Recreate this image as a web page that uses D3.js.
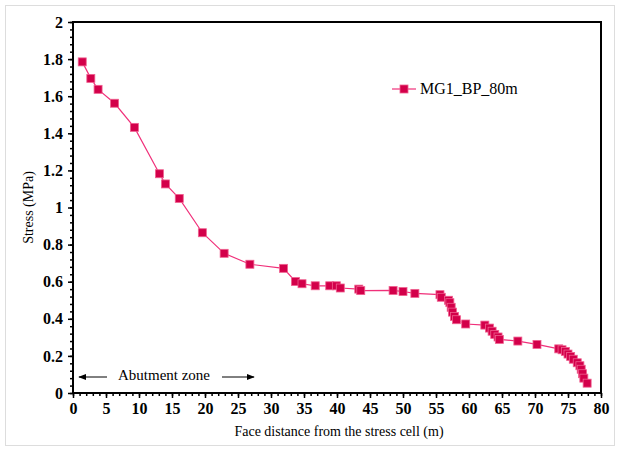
<!DOCTYPE html>
<html lang="en">
<head>
<meta charset="UTF-8">
<title>Stress vs face distance</title>
<script src="https://d3js.org/d3.v7.min.js"></script>
<style>
  body { margin: 0; background: #fff; }
  svg text { font-family: "Liberation Serif", "Times New Roman", Times, "DejaVu Serif", serif !important; }
</style>
</head>
<body>
<svg id="chart" width="620" height="451"></svg>
<script>
// face distance (m) and stress (MPa)
var distance = [1.4, 2.7, 3.8, 6.3, 9.3, 13.1, 14.0, 16.1, 19.6, 22.9, 26.8, 31.9,
  33.7, 34.7, 36.7, 38.9, 39.9, 40.5, 43.3, 43.6, 48.5, 50.0, 51.8, 55.6, 55.8,
  56.9, 57.1, 57.3, 57.5, 57.8, 58.1, 59.5, 62.4, 63.1, 63.5, 63.9, 64.4, 64.6,
  67.4, 70.3, 73.6, 74.1, 74.6, 75.0, 75.4, 75.8, 76.4, 76.8, 77.0, 77.2, 77.4, 77.9];
var stress = [1.785, 1.696, 1.637, 1.562, 1.432, 1.182, 1.127, 1.049, 0.864, 0.753, 0.694, 0.672,
  0.601, 0.589, 0.578, 0.578, 0.578, 0.566, 0.560, 0.552, 0.553, 0.547, 0.537, 0.530, 0.516,
  0.500, 0.487, 0.462, 0.436, 0.413, 0.395, 0.372, 0.366, 0.350, 0.333, 0.316, 0.302, 0.289,
  0.280, 0.262, 0.238, 0.233, 0.224, 0.210, 0.197, 0.182, 0.163, 0.147, 0.128, 0.104, 0.080, 0.053];
var seriesName = "MG1_BP_80m";
var xTicks = d3.range(0, 81, 5);
var yTicks = [0, 0.2, 0.4, 0.6, 0.8, 1, 1.2, 1.4, 1.6, 1.8, 2];

var svg = d3.select("#chart");
var W = 620, H = 451;
var serif = '"Liberation Serif", "Times New Roman", serif';

// light outer frame
svg.append("rect").attr("x", 5.5).attr("y", 5.5).attr("width", W - 11).attr("height", H - 11)
  .attr("fill", "#fff").attr("stroke", "#ddd");

var pLeft = 73, pRight = 601, pTop = 22, pBottom = 393;
var x = d3.scaleLinear().domain([0, 80]).range([pLeft, pRight]);
var y = d3.scaleLinear().domain([0, 2]).range([pBottom, pTop]);

// minor ticks
svg.append("g").attr("transform", "translate(0," + pBottom + ")")
  .call(d3.axisBottom(x).tickValues(d3.range(0, 81, 1)).tickSize(3).tickFormat(""))
  .call(g => g.select(".domain").remove())
  .selectAll("line").attr("stroke-width", 1.5);
svg.append("g").attr("transform", "translate(" + pLeft + ",0)")
  .call(d3.axisLeft(y).tickValues(d3.range(0, 2.001, 0.04)).tickSize(3).tickFormat(""))
  .call(g => g.select(".domain").remove())
  .selectAll("line").attr("stroke-width", 1.5);

// major ticks + labels
var xAxis = svg.append("g").attr("transform", "translate(0," + pBottom + ")")
  .attr("font-size", 16).attr("font-weight", "bold")
  .call(d3.axisBottom(x).tickValues(xTicks).tickSize(5).tickPadding(5).tickFormat(d3.format("d")));
xAxis.select(".domain").remove();
xAxis.selectAll("line").attr("stroke-width", 1.5);
xAxis.selectAll("text").style("font-size", "16px").style("font-weight", "700")
  .style("font-family", serif).attr("fill", "#000");

var yAxis = svg.append("g").attr("transform", "translate(" + pLeft + ",0)")
  .call(d3.axisLeft(y).tickValues(yTicks).tickSize(5).tickPadding(5).tickFormat(d => String(+d.toFixed(1))));
yAxis.select(".domain").remove();
yAxis.selectAll("line").attr("stroke-width", 1.5);
yAxis.selectAll("text").style("font-size", "16px").style("font-weight", "700")
  .style("font-family", serif).attr("fill", "#000");

// plot frame
svg.append("rect").attr("x", pLeft).attr("y", pTop).attr("width", pRight - pLeft).attr("height", pBottom - pTop)
  .attr("fill", "none").attr("stroke", "#000").attr("stroke-width", 2);

// axis titles
svg.append("text").attr("x", (pLeft + pRight) / 2 + 2).attr("y", 436).attr("text-anchor", "middle")
  .style("font-family", serif).style("font-size", "14px").text("Face distance from the stress cell (m)");
svg.append("text").attr("transform", "translate(33," + ((pTop + pBottom) / 2) + ") rotate(-90)")
  .attr("text-anchor", "middle").style("font-family", serif).style("font-size", "14px").text("Stress (MPa)");

// line + markers
var pts = distance.map((d, i) => [d, stress[i]]);
svg.append("path").datum(pts)
  .attr("fill", "none").attr("stroke", "#f0307a").attr("stroke-width", 1.2)
  .attr("d", d3.line().x(d => x(d[0])).y(d => y(d[1])));

var ms = 8;
svg.append("g").selectAll("rect").data(pts).enter().append("rect")
  .attr("x", d => x(d[0]) - ms / 2).attr("y", d => y(d[1]) - ms / 2)
  .attr("width", ms).attr("height", ms)
  .attr("fill", "#d3004a").attr("stroke", "#f06090").attr("stroke-width", 0.8);

// legend
var lg = svg.append("g").attr("transform", "translate(392,89)");
lg.append("line").attr("x1", 0).attr("x2", 24).attr("y1", 0).attr("y2", 0)
  .attr("stroke", "#f0307a").attr("stroke-width", 1.2);
lg.append("rect").attr("x", 12 - ms / 2).attr("y", -ms / 2).attr("width", ms).attr("height", ms)
  .attr("fill", "#d3004a").attr("stroke", "#f06090").attr("stroke-width", 0.8);
lg.append("text").attr("x", 28).attr("y", 5).style("font-family", serif).style("font-size", "16px").text(seriesName);

// abutment zone annotation
svg.append("defs").append("marker").attr("id", "arr").attr("viewBox", "0 0 10 10")
  .attr("refX", 9).attr("refY", 5).attr("markerWidth", 8).attr("markerHeight", 8)
  .attr("orient", "auto-start-reverse")
  .append("path").attr("d", "M0,1 L10,5 L0,9 Z").attr("fill", "#000");
svg.append("line").attr("x1", 107).attr("x2", 79).attr("y1", 377).attr("y2", 377)
  .attr("stroke", "#000").attr("marker-end", "url(#arr)");
svg.append("line").attr("x1", 222).attr("x2", 254).attr("y1", 377).attr("y2", 377)
  .attr("stroke", "#000").attr("marker-end", "url(#arr)");
svg.append("text").attr("x", 164).attr("y", 380).attr("text-anchor", "middle")
  .style("font-family", serif).style("font-size", "15px").text("Abutment zone");
</script>
</body>
</html>
